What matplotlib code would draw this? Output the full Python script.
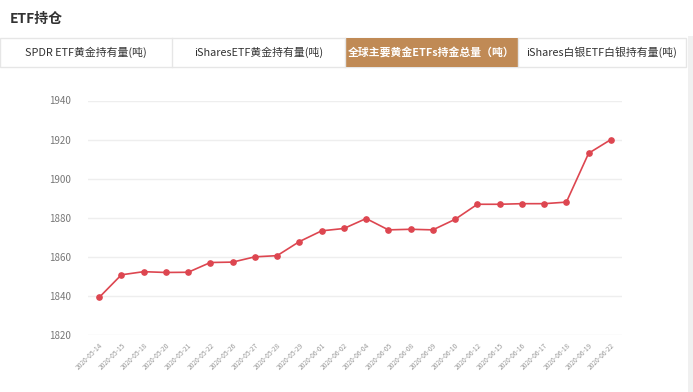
import matplotlib.pyplot as plt
from matplotlib.patches import Rectangle

plt.rcParams['font.family'] = ['Noto Sans CJK SC', 'DejaVu Sans']

dates = ["2020-05-14", "2020-05-15", "2020-05-18", "2020-05-20", "2020-05-21", "2020-05-22",
         "2020-05-26", "2020-05-27", "2020-05-28", "2020-05-29", "2020-06-01", "2020-06-02",
         "2020-06-04", "2020-06-05", "2020-06-08", "2020-06-09", "2020-06-10", "2020-06-12",
         "2020-06-15", "2020-06-16", "2020-06-17", "2020-06-18", "2020-06-19", "2020-06-22"]
holdings = [1839.2, 1850.8, 1852.4, 1852.0, 1852.1, 1857.1,
            1857.3, 1860.0, 1860.6, 1867.8, 1873.3, 1874.5,
            1879.6, 1873.8, 1874.1, 1873.8, 1879.2, 1886.9,
            1886.9, 1887.2, 1887.2, 1888.0, 1913.0, 1920.0]
tabs = ["SPDR ETF黄金持有量(吨)", "iSharesETF黄金持有量(吨)", "全球主要黄金ETFs持金总量（吨）", "iShares白银ETF白银持有量(吨)"]
active_tab = 2

W, H = 693, 392
fig = plt.figure(figsize=(W / 100, H / 100), dpi=100)

def fx(px):
    return px / W

def fy(py):
    return 1 - py / H

# header
fig.text(fx(10), fy(19), "ETF持仓", fontsize=10, fontweight="bold", color="#333333", va="center")

# tab bar
tab_edges = [0, 172, 345, 518, 686]
top, bot = 38, 67
fig.patches.append(Rectangle((fx(0), fy(bot)), fx(686), fy(top) - fy(bot), transform=fig.transFigure,
                             facecolor="white", edgecolor="#e6e6e6", lw=1))
for i, name in enumerate(tabs):
    x0, x1 = tab_edges[i], tab_edges[i + 1]
    if i == active_tab:
        fig.patches.append(Rectangle((fx(x0), fy(bot)), fx(x1 - x0), fy(top) - fy(bot),
                                     transform=fig.transFigure, facecolor="#c08a55", edgecolor="none"))
        fig.text(fx((x0 + x1) / 2), fy((top + bot) / 2), name, fontsize=7.8, color="white",
                 fontweight="bold", ha="center", va="center")
    else:
        fig.text(fx((x0 + x1) / 2), fy((top + bot) / 2), name, fontsize=7.8, color="#333333",
                 ha="center", va="center")
    if 0 < i:
        fig.lines.append(plt.Line2D([fx(x0), fx(x0)], [fy(bot), fy(top)], transform=fig.transFigure,
                                    color="#e6e6e6", lw=1))
# right scrollbar strip
fig.patches.append(Rectangle((fx(688), 0), fx(5), fy(36), transform=fig.transFigure,
                             facecolor="#f0f0f0", edgecolor="none"))

# chart
ax = fig.add_axes([fx(88), fy(335), fx(622 - 88), fy(100.5) - fy(335)])
x = list(range(len(dates)))
ax.plot(x, holdings, color="#dd4650", lw=1.2, marker="o", ms=3.8, zorder=3)
ax.set_xlim(-0.5, len(dates) - 0.5)
ax.set_ylim(1820, 1940)
ax.set_yticks(range(1820, 1941, 20))
ax.yaxis.grid(True, color="#eeeeee", lw=1)
ax.set_axisbelow(True)
for s in ax.spines.values():
    s.set_visible(False)
ax.tick_params(axis="y", length=0, pad=12, labelsize=7, labelcolor="#777777")
ax.set_xticks(x)
ax.set_xticklabels(dates, rotation=45, ha="right", rotation_mode="anchor", fontsize=4.8, color="#999999")
ax.tick_params(axis="x", length=0, pad=5)

plt.savefig("out.png", dpi=100)
